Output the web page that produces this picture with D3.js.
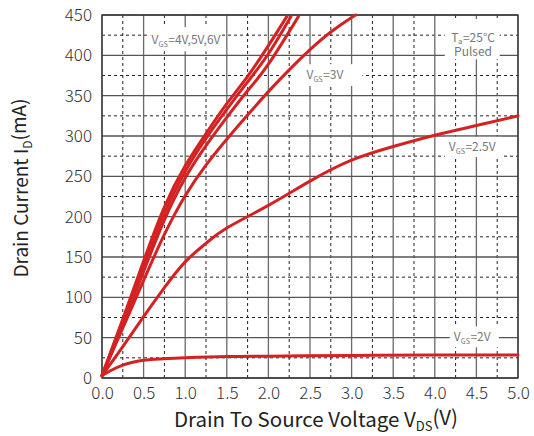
<!DOCTYPE html>
<html><head><meta charset="utf-8">
<script src="https://cdn.jsdelivr.net/npm/d3@7/dist/d3.min.js"></script>
<style>
body{margin:0;background:#fff;}
text{font-family:"Noto Sans CJK SC","Noto Sans",sans-serif;}
</style></head>
<body>
<svg id="chart" width="534" height="436"></svg>
<script>
// ---- data ----
const xTicks = [0,0.5,1,1.5,2,2.5,3,3.5,4,4.5,5];
const yTicks = [0,50,100,150,200,250,300,350,400,450];
const vds6 = [0,0.25,0.5,0.75,1.0,1.25,1.5,1.75,2.0,2.22];
const id6  = [3,73,145,212,263,303,340,374,412,448];
const vds5 = [0,0.25,0.5,0.75,1.0,1.25,1.5,1.75,2.0,2.27];
const id5  = [3,70,139,204,256,297,333,367,402,448];
const vds4 = [0,0.25,0.5,0.75,1.0,1.25,1.5,1.75,2.0,2.36];
const id4  = [3,66,132,196,248,288,323,356,389,448];
const vds3 = [0,0.25,0.5,0.75,1.0,1.25,1.5,1.75,2.0,2.25,2.5,2.75,3.0,3.05];
const id3  = [3,62,121,178,226,264,296,326,355,382,407,429,447,450];
const vds25 = [0,0.25,0.5,0.75,1.0,1.25,1.5,2.0,2.5,3.0,3.5,4.0,4.5,5.0];
const id25  = [3,39,76,112,144,167,186,214,244,270,287,301,313,325];
const vds2 = [0,0.1,0.25,0.5,0.75,1.0,1.5,2.0,3.0,4.0,5.0];
const id2  = [3,9,16,22,24,25,26.5,27,28,28.5,28.5];

const series = [
  {v:vds2,i:id2,smooth:false},{v:vds25,i:id25,smooth:true},{v:vds3,i:id3,smooth:true},
  {v:vds4,i:id4,smooth:true},{v:vds5,i:id5,smooth:true},{v:vds6,i:id6,smooth:true}
];

// ---- layout ----
const svg = d3.select("#chart");
const m = {l:102,t:15,r:16,b:58};
const W = 534-m.l-m.r, H = 436-m.t-m.b;
const x = d3.scaleLinear().domain([0,5]).range([0,W]);
const y = d3.scaleLinear().domain([0,450]).range([H,0]);
const g = svg.append("g").attr("transform",`translate(${m.l},${m.t})`);

// minor dashed grid
const xMinor = d3.range(0.25,5,0.5);
const yMinor = d3.range(25,450,50);
g.append("g").selectAll("line").data(xMinor).join("line")
  .attr("x1",d=>x(d)).attr("x2",d=>x(d)).attr("y1",0).attr("y2",H)
  .attr("stroke","#222").attr("stroke-width",1).attr("stroke-dasharray","3,3");
g.append("g").selectAll("line").data(yMinor).join("line")
  .attr("y1",d=>y(d)).attr("y2",d=>y(d)).attr("x1",0).attr("x2",W)
  .attr("stroke","#222").attr("stroke-width",1).attr("stroke-dasharray","3,3");
// major solid grid
g.append("g").selectAll("line").data(xTicks).join("line")
  .attr("x1",d=>x(d)).attr("x2",d=>x(d)).attr("y1",0).attr("y2",H)
  .attr("stroke","#6a6a6a").attr("stroke-width",1.3);
g.append("g").selectAll("line").data(yTicks).join("line")
  .attr("y1",d=>y(d)).attr("y2",d=>y(d)).attr("x1",0).attr("x2",W)
  .attr("stroke","#555").attr("stroke-width",1.3);
g.append("rect").attr("width",W).attr("height",H).attr("fill","none")
  .attr("stroke","#333").attr("stroke-width",1.3);

// axes (labels only)
const xAxis = d3.axisBottom(x).tickValues(xTicks).tickFormat(d3.format(".1f")).tickSize(0).tickPadding(9);
const yAxis = d3.axisLeft(y).tickValues(yTicks).tickFormat(d3.format("d")).tickSize(0).tickPadding(10);
const gx = g.append("g").attr("transform",`translate(0,${H})`).call(xAxis);
const gy = g.append("g").call(yAxis);
[gx,gy].forEach(a=>{a.select(".domain").remove();
  a.selectAll("text").attr("font-size",17).attr("fill","#333")
   .attr("font-family","'Noto Sans CJK SC','Noto Sans',sans-serif").attr("font-weight",300);});

// annotation labels with white boxes
function label(cx,cy,parts,fs){
  const t = g.append("text").attr("x",x(cx)).attr("y",y(cy)).attr("text-anchor","middle")
    .attr("dy","0.35em").attr("font-size",fs).attr("fill","#777");
  parts.forEach(p=>{
    const s = t.append("tspan").text(p[0]);
    if(p[1]==="sub") s.attr("font-size",fs*0.6).attr("dy","0.35em");
    if(p[1]==="up") s.attr("dy","-"+(0.35*0.6).toFixed(2)+"em").attr("dx","0.5");
  });
  return t;
}
function box(x0,x1,y0,y1){
  g.append("rect").attr("x",x(x0)).attr("y",y(y1)).attr("width",x(x1)-x(x0))
   .attr("height",y(y0)-y(y1)).attr("fill","#fff");
}
box(0.58,1.44,405,435);
box(4.12,4.78,395,445);
box(2.28,3.13,362,389);
box(4.12,4.8,274,299);
box(4.18,4.77,38,64);

const lbls = [
  {cx:1.01,cy:419,parts:[["V"],["GS","sub"],["=4V,5V,6V","up"]]},
  {cx:4.46,cy:422,parts:[["T"],["a","sub"],["=25°C","up"]]},
  {cx:4.46,cy:405,parts:[["Pulsed"]]},
  {cx:2.68,cy:375.5,parts:[["V"],["GS","sub"],["=3V","up"]]},
  {cx:4.45,cy:286,parts:[["V"],["GS","sub"],["=2.5V","up"]]},
  {cx:4.45,cy:51,parts:[["V"],["GS","sub"],["=2V","up"]]}
];
lbls.forEach(l=>label(l.cx,l.cy,l.parts,12));

// curves
const lineS = d3.line().x(d=>x(d[0])).y(d=>y(d[1])).curve(d3.curveNatural);
const lineM = d3.line().x(d=>x(d[0])).y(d=>y(d[1])).curve(d3.curveMonotoneX);
series.forEach(s=>{
  g.append("path").datum(s.v.map((v,k)=>[v,s.i[k]]))
   .attr("d",s.smooth?lineS:lineM).attr("fill","none").attr("stroke","#d42222")
   .attr("stroke-width",3).attr("stroke-linecap","round");
});

// axis titles
const xt = svg.append("text").attr("x",m.l+W/2+6).attr("y",427).attr("text-anchor","middle")
  .attr("font-size",20.5).attr("fill","#222");
xt.append("tspan").text("Drain To Source Voltage V");
xt.append("tspan").text("DS").attr("font-size",13).attr("dy","0.3em");
xt.append("tspan").text("(V)").attr("dy","-0.3em");
const yt = svg.append("text").attr("transform",`translate(28,188) rotate(-90)`)
  .attr("text-anchor","middle").attr("font-size",19).attr("fill","#222");
yt.append("tspan").text("Drain Current I");
yt.append("tspan").text("D").attr("font-size",12).attr("dy","0.3em");
yt.append("tspan").text("(mA)").attr("dy","-0.3em");
</script>
</body></html>
